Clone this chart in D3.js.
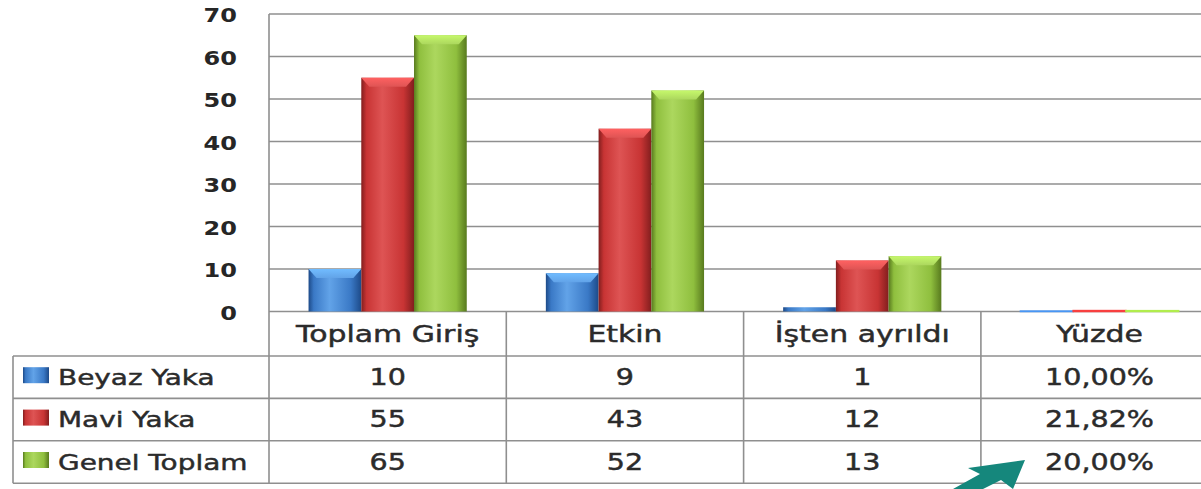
<!DOCTYPE html>
<html>
<head>
<meta charset="utf-8">
<script src="https://cdn.jsdelivr.net/npm/d3@7"></script>
<style>
  html, body { margin: 0; padding: 0; background: #fff; }
  svg { display: block; }
</style>
</head>
<body>
<div id="chart"></div>
<script>
// Data
const categories = ["Toplam Giriş", "Etkin", "İşten ayrıldı", "Yüzde"];
const series = ["Beyaz Yaka", "Mavi Yaka", "Genel Toplam"];
const beyazYaka = [10, 9, 1, 0.1];
const maviYaka = [55, 43, 12, 0.2182];
const genelToplam = [65, 52, 13, 0.2];
const tableLabels = [
  ["10", "9", "1", "10,00%"],
  ["55", "43", "12", "21,82%"],
  ["65", "52", "13", "20,00%"]
];
const yTicks = [0, 10, 20, 30, 40, 50, 60, 70];

const seriesValues = [beyazYaka, maviYaka, genelToplam];

// Chart dimensions
const width = 1201;
const height = 489;
const plotLeft = 269;
const plotTop = 14;
const plotBottom = 311.5;
const bandWidth = 237.3;
const tableLeft = 13;
const headerBottom = 356;
const rowHeight = 42.4;
const sx = 1.27; // the picture is stretched sideways

const font = "'DejaVu Sans', Verdana, sans-serif";
const lineColor = "#8f8f8f";
const textColor = "#2b2b2b";

const colors = {
  "Beyaz Yaka": {base: "#3a79c6", light: "#62a3e8", dark: "#1d4a88"},
  "Mavi Yaka": {base: "#c83434", light: "#de5454", dark: "#821e1e"},
  "Genel Toplam": {base: "#8fbf3e", light: "#acd75e", dark: "#587a1e"}
};

const x = d3.scaleBand()
    .domain(categories)
    .range([plotLeft, plotLeft + bandWidth * categories.length]);

const xs = d3.scaleBand()
    .domain(series)
    .range([0, x.bandwidth()])
    .paddingOuter(0.75);

const y = d3.scaleLinear()
    .domain([0, 70])
    .range([plotBottom, plotTop]);

const rows = d3.scaleBand()
    .domain(series)
    .range([headerBottom, headerBottom + rowHeight * series.length]);

const svg = d3.select("#chart").append("svg")
    .attr("width", width)
    .attr("height", height)
    .attr("viewBox", [0, 0, width, height]);

// Gradients for the bevelled bars
const defs = svg.append("defs");
series.forEach((s, i) => {
  const c = colors[s];
  const g = defs.append("linearGradient")
      .attr("id", "side" + i)
      .attr("x1", "0").attr("x2", "1").attr("y1", "0").attr("y2", "0");
  g.append("stop").attr("offset", "0%").attr("stop-color", c.dark);
  g.append("stop").attr("offset", "10%").attr("stop-color", c.base);
  g.append("stop").attr("offset", "40%").attr("stop-color", c.light);
  g.append("stop").attr("offset", "80%").attr("stop-color", c.base);
  g.append("stop").attr("offset", "100%").attr("stop-color", c.dark);

  const t = defs.append("linearGradient")
      .attr("id", "top" + i)
      .attr("x1", "0").attr("x2", "0").attr("y1", "0").attr("y2", "1");
  t.append("stop").attr("offset", "0%").attr("stop-color", d3.color(c.light).brighter(0.4));
  t.append("stop").attr("offset", "100%").attr("stop-color", c.light);
});

// Horizontal gridlines
svg.append("g")
  .selectAll("line")
  .data(yTicks)
  .join("line")
    .attr("x1", plotLeft)
    .attr("x2", width)
    .attr("y1", d => y(d))
    .attr("y2", d => y(d))
    .attr("stroke", lineColor)
    .attr("stroke-width", 1.6);

// Y tick labels
svg.append("g")
  .selectAll("text")
  .data(yTicks)
  .join("text")
    .attr("transform", d => `translate(237,${y(d) + 8}) scale(1.2,1)`)
    .attr("text-anchor", "end")
    .style("font-family", font)
    .style("font-size", "20px")
    .style("font-weight", "bold")
    .attr("fill", "#262626")
    .text(d => d);

// Bars
const groups = svg.append("g")
  .selectAll("g")
  .data(categories)
  .join("g")
    .attr("transform", d => `translate(${x(d)},0)`);

const bars = groups.selectAll("g")
  .data((cat, ci) => series.map((s, si) => ({cat, s, si, value: seriesValues[si][ci]})))
  .join("g");

bars.append("rect")
    .attr("x", d => xs(d.s))
    .attr("y", d => y(d.value))
    .attr("width", xs.bandwidth())
    .attr("height", d => y(0) - y(d.value))
    .attr("fill", d => `url(#side${d.si})`)
    .attr("stroke", d => d.value < 1 ? d3.color(colors[d.s].base).brighter(0.6) : "none")
    .attr("stroke-width", 1.5);

// top bevel
bars.filter(d => y(0) - y(d.value) > 10)
  .append("polygon")
    .attr("points", d => {
      const x0 = xs(d.s), x1 = x0 + xs.bandwidth(), t = y(d.value), b = 9;
      return [[x0, t], [x1, t], [x1 - 8, t + b], [x0 + 8, t + b]].join(" ");
    })
    .attr("fill", d => `url(#top${d.si})`);

// Table lines
const tableBottom = rows.range()[1];
const tbl = svg.append("g")
    .attr("stroke", lineColor)
    .attr("stroke-width", 1.6);

// vertical lines between categories
tbl.selectAll("line.v")
  .data(categories)
  .join("line")
    .attr("class", "v")
    .attr("x1", d => x(d))
    .attr("x2", d => x(d))
    .attr("y1", d => d === categories[0] ? plotTop : plotBottom)
    .attr("y2", tableBottom);

// horizontal row lines
tbl.selectAll("line.h")
  .data(series)
  .join("line")
    .attr("class", "h")
    .attr("x1", tableLeft)
    .attr("x2", width)
    .attr("y1", d => rows(d))
    .attr("y2", d => rows(d));

tbl.append("line")
    .attr("x1", tableLeft).attr("x2", width)
    .attr("y1", tableBottom).attr("y2", tableBottom);

tbl.append("line")
    .attr("x1", tableLeft).attr("x2", tableLeft)
    .attr("y1", headerBottom).attr("y2", tableBottom);

// shared style for the table texts
function tableText(sel, size) {
  sel.style("font-family", font)
    .style("font-size", size + "px")
    .attr("fill", textColor)
    .attr("stroke", textColor)
    .attr("stroke-width", 0.45);
}

// Header texts
svg.append("g")
  .selectAll("text")
  .data(categories)
  .join("text")
    .attr("transform", d => `translate(${x(d) + x.bandwidth() / 2},${(plotBottom + headerBottom) / 2 + 8.5}) scale(1.3,1)`)
    .attr("text-anchor", "middle")
    .text(d => d)
    .call(tableText, 23);

// Row labels with legend keys
const rowG = svg.append("g")
  .selectAll("g")
  .data(series)
  .join("g")
    .attr("transform", d => `translate(0,${rows(d) + rows.bandwidth() / 2})`);

rowG.append("rect")
    .attr("x", 23)
    .attr("y", -10)
    .attr("width", 26)
    .attr("height", 16)
    .attr("fill", (d, i) => `url(#side${i})`);

rowG.append("text")
    .attr("transform", `translate(58,7.5) scale(${sx},1)`)
    .text(d => d)
    .call(tableText, 22);

// Cell values
rowG.selectAll("text.cell")
  .data((d, i) => tableLabels[i].map((v, ci) => ({v, cat: categories[ci]})))
  .join("text")
    .attr("class", "cell")
    .attr("transform", d => `translate(${x(d.cat) + x.bandwidth() / 2},7.5) scale(${sx},1)`)
    .attr("text-anchor", "middle")
    .text(d => d.v)
    .call(tableText, 22.5);

// Teal annotation arrow at the bottom
svg.append("path")
    .attr("d", "M953,489 L980,474 L968,468 L1025,460 L1013,489 L1001,480 L983,489 Z")
    .attr("fill", "#15877c");
</script>
</body>
</html>
